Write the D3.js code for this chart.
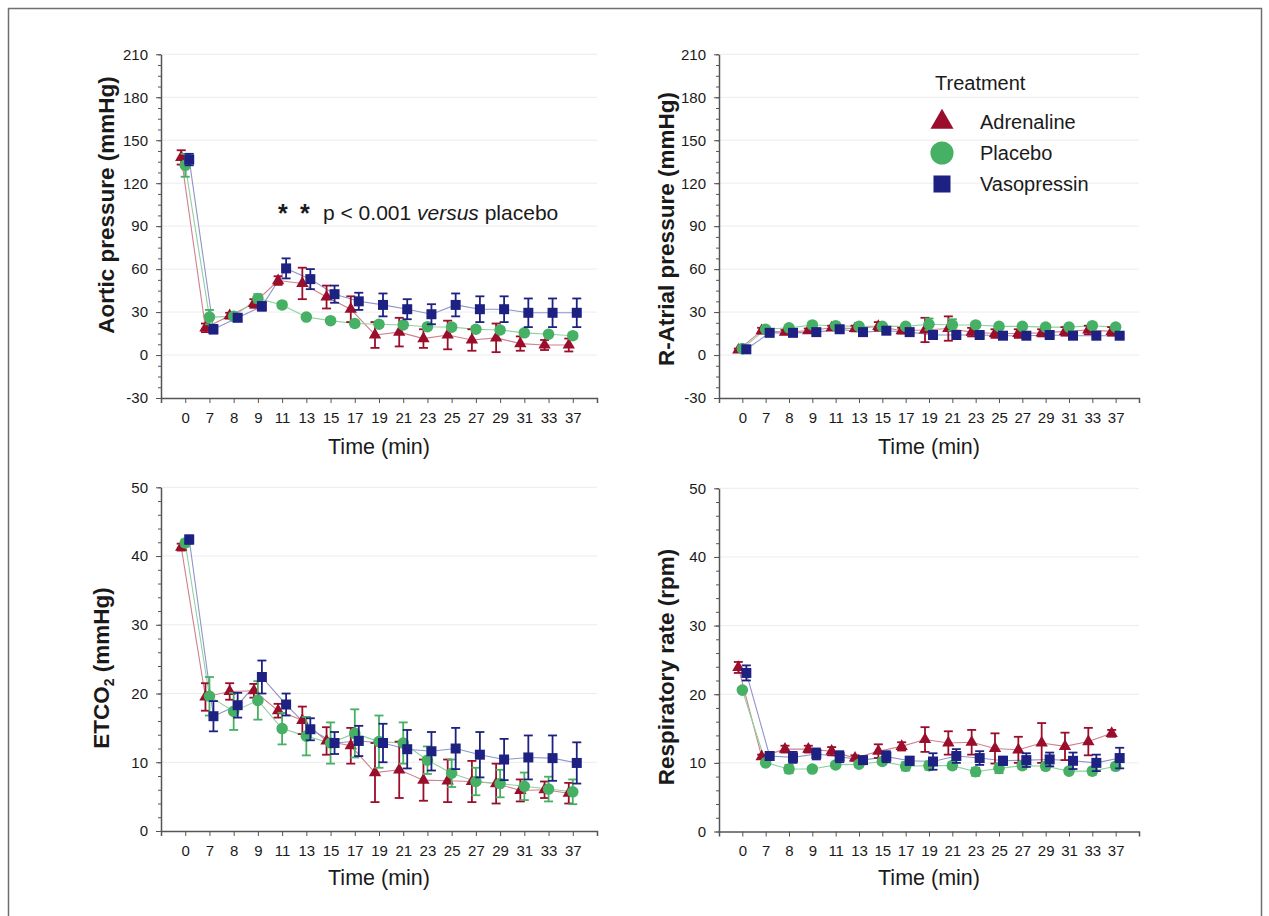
<!DOCTYPE html>
<html>
<head>
<meta charset="utf-8">
<script src="https://cdn.jsdelivr.net/npm/d3@7"></script>
<style>
  body { margin: 0; background: #fff; }
  text { font-family: "Liberation Sans", Arial, sans-serif; fill: #1a1a1a; }
</style>
</head>
<body>
<div id="chart"></div>
<script>
// time points (min)
const times = ["0", "7", "8", "9", "11", "13", "15", "17", "19", "21", "23", "25", "27", "29", "31", "33", "37"];
const treatments = ["Adrenaline", "Placebo", "Vasopressin"];

// aortic pressure (mmHg), mean and error
const aorticAdr = [138, 19, 27.5, 36, 52, 50, 40.5, 32, 14, 16, 11.5, 14, 10.5, 12, 8, 7, 7];
const aorticAdrErr = [5, 3, 2, 3, 3, 11, 8, 9, 9, 10, 6.5, 10, 7.5, 10, 5, 3.5, 4.5];
const aorticPlc = [132.5, 26.5, 27, 39.5, 35, 26.5, 24, 22, 21.5, 21, 19.8, 19.5, 18, 17.5, 15.5, 14.5, 13.5];
const aorticPlcErr = [8, 5, 2, 3, 2, 1.5, 2, 2, 2, 2, 2, 2, 2, 2, 2, 2, 2];
const aorticVas = [136.5, 18, 26, 34, 60.5, 53, 42.5, 37.5, 35, 32, 28.5, 35, 32, 32, 29.5, 29.5, 29.5];
const aorticVasErr = [4, 3, 2, 3, 7, 7, 6, 6, 8, 7, 7, 8, 9, 9, 10, 10, 10];

// right atrial pressure (mmHg)
const atrialAdr = [3.5, 17, 16, 17, 19, 18.5, 20, 17, 17.5, 18.5, 16, 15, 15, 15.5, 16.5, 17.5, 16.5];
const atrialAdrErr = [1, 2, 1.5, 1.5, 1.5, 2, 3, 2, 8.5, 8.5, 3, 3, 3, 2.5, 3, 3, 3];
const atrialPlc = [4.5, 18, 19, 21, 20.5, 20, 20, 20, 21.5, 21, 21, 20, 20, 19.5, 19.5, 20.5, 19.5];
const atrialPlcErr = [1, 1.5, 1.5, 1.5, 1.5, 1.5, 1.5, 1.5, 4, 4, 1.5, 1.5, 1.5, 1.5, 1.5, 1.5, 1.5];
const atrialVas = [4, 15.5, 15.5, 16, 18, 16, 17, 16, 14, 14, 14, 13.5, 13.5, 14, 13.5, 13.5, 13.5];
const atrialVasErr = [1, 1, 1, 1, 1, 1, 1, 1, 1, 1, 1, 1, 1, 1, 1, 1, 1];

// ETCO2 (mmHg)
const etco2Adr = [41.3, 19.5, 20.3, 20.4, 17.5, 16.1, 13.1, 12.4, 8.5, 8.9, 7.4, 7.3, 7.2, 6.9, 5.9, 6, 5.5];
const etco2AdrErr = [0.5, 2, 1.2, 1, 1, 2, 2, 2.6, 4.3, 4.1, 3, 3.1, 3, 2.9, 1.6, 1.2, 1.5];
const etco2Plc = [41.9, 19.6, 17.4, 19, 14.9, 13.8, 12.8, 14.2, 13, 12.8, 10.3, 8.4, 7.2, 6.9, 6.5, 6.1, 5.7];
const etco2PlcErr = [0.5, 2.8, 2.7, 2.8, 2.3, 2.8, 3, 3.5, 3.8, 3, 2, 2, 2, 2, 2, 1.8, 1.8];
const etco2Vas = [42.4, 16.7, 18.3, 22.4, 18.4, 14.8, 12.8, 13.1, 12.8, 11.9, 11.6, 12, 11.1, 10.4, 10.7, 10.6, 9.9];
const etco2VasErr = [0.6, 2.2, 1.8, 2.4, 1.6, 1.6, 1.6, 2.2, 2.8, 2.8, 2.8, 3, 3.3, 3, 3.2, 3.3, 3];

// respiratory rate (rpm)
const respAdr = [23.9, 10.9, 12, 12, 11.7, 10.7, 11.7, 12.4, 13.4, 12.9, 13, 12.1, 11.9, 12.9, 12.4, 13.1, 14.3];
const respAdrErr = [0.8, 0.3, 0.5, 0.5, 0.6, 0.4, 1, 0.6, 1.8, 1.7, 1.8, 2.2, 1.9, 2.9, 2, 2, 0.5];
const respPlc = [20.6, 10, 9.1, 9.1, 9.7, 9.8, 10.2, 9.5, 9.6, 9.6, 8.7, 9.2, 9.6, 9.5, 8.8, 8.8, 9.5];
const respPlcErr = [0.3, 0.3, 0.6, 0.4, 0.4, 0.4, 0.4, 0.6, 0.6, 0.5, 0.6, 0.7, 0.5, 0.5, 0.4, 0.5, 0.5];
const respVas = [23.1, 11, 10.8, 11.3, 10.9, 10.4, 10.9, 10.3, 10.2, 11, 10.7, 10.3, 10.4, 10.5, 10.3, 10, 10.7];
const respVasErr = [1.1, 0.3, 0.8, 0.8, 0.8, 0.5, 0.8, 0.6, 1.2, 1, 1, 0.6, 1, 1, 1.2, 1.2, 1.5];

const pressureTicks = [-30, 0, 30, 60, 90, 120, 150, 180, 210];
const smallTicks = [0, 10, 20, 30, 40, 50];

const width = 1269;
const height = 916;

const styles = {
  Adrenaline: { color: "#9a0d2b", line: "#d0808f", symbol: d3.symbolTriangle, size: 66, big: 230, dx: -4 },
  Placebo: { color: "#46b064", line: "#8fd0a0", symbol: d3.symbolCircle, size: 105, big: 420, dx: 0 },
  Vasopressin: { color: "#1d2182", line: "#8f94c8", symbol: d3.symbolSquare, size: 100, big: 290, dx: 4 }
};

function series(a, ae, p, pe, v, ve) {
  return [
    { name: "Adrenaline", values: a, errors: ae },
    { name: "Placebo", values: p, errors: pe },
    { name: "Vasopressin", values: v, errors: ve }
  ];
}

const panels = [
  { x0: 161, x1: 597, y0: 398, y1: 54.3, domain: [-30, 210], ticks: pressureTicks, minor: 7.5,
    label: "Aortic pressure (mmHg)", lx: 106, ly: 205, xlabelY: 454, tickY: 423,
    data: series(aorticAdr, aorticAdrErr, aorticPlc, aorticPlcErr, aorticVas, aorticVasErr) },
  { x0: 719, x1: 1139, y0: 398, y1: 54.3, domain: [-30, 210], ticks: pressureTicks, minor: 7.5,
    label: "R-Atrial pressure (mmHg)", lx: 666, ly: 229, xlabelY: 454, tickY: 423,
    data: series(atrialAdr, atrialAdrErr, atrialPlc, atrialPlcErr, atrialVas, atrialVasErr) },
  { x0: 161, x1: 597, y0: 831, y1: 487.3, domain: [0, 50], ticks: smallTicks, minor: 2,
    label: "ETCO2", lx: 101, ly: 668, xlabelY: 885, tickY: 855,
    data: series(etco2Adr, etco2AdrErr, etco2Plc, etco2PlcErr, etco2Vas, etco2VasErr) },
  { x0: 719, x1: 1139, y0: 831.5, y1: 488.3, domain: [0, 50], ticks: smallTicks, minor: 2,
    label: "Respiratory rate (rpm)", lx: 666, ly: 667, xlabelY: 885, tickY: 855,
    data: series(respAdr, respAdrErr, respPlc, respPlcErr, respVas, respVasErr) }
];

const svg = d3.select("#chart").append("svg")
  .attr("width", width)
  .attr("height", height);

svg.append("rect")
  .attr("x", 8.5).attr("y", 8.5)
  .attr("width", 1253).attr("height", 920)
  .attr("fill", "#fff")
  .attr("stroke", "#6f6f6f")
  .attr("stroke-width", 1.5);

panels.forEach(function (p) {
  const g = svg.append("g");
  const xScale = d3.scalePoint().domain(times).range([p.x0, p.x1]).padding(1);
  const yScale = d3.scaleLinear().domain(p.domain).range([p.y0, p.y1]);

  // faint gridlines
  g.append("g").selectAll("line")
    .data(p.ticks.filter((t) => t != p.domain[0]))
    .enter().append("line")
    .attr("x1", p.x0).attr("x2", p.x1)
    .attr("y1", (d) => yScale(d)).attr("y2", (d) => yScale(d))
    .attr("stroke", "#ececec").attr("stroke-width", 1);

  // minor ticks
  const minorVals = d3.range(p.domain[0], p.domain[1] + 0.001, p.minor);
  g.append("g")
    .attr("transform", "translate(" + p.x0 + ",0)")
    .call(d3.axisLeft(yScale).tickValues(minorVals).tickSize(3).tickFormat(""))
    .call((a) => a.select(".domain").remove())
    .call((a) => a.selectAll("line").attr("stroke", "#555"));

  // y axis
  const yAxis = g.append("g")
    .attr("transform", "translate(" + p.x0 + ",0)")
    .call(d3.axisLeft(yScale).tickValues(p.ticks).tickFormat((d) => String(d))
      .tickSize(5).tickSizeOuter(0).tickPadding(8));
  yAxis.select(".domain").attr("stroke", "#555").attr("stroke-width", 1.5);
  yAxis.selectAll("line").attr("stroke", "#555");
  yAxis.selectAll("text").style("font-size", "15px").style("font-family", "'Liberation Sans', Arial, sans-serif").attr("fill", "#1a1a1a");

  // x axis
  const xAxis = g.append("g")
    .attr("transform", "translate(0," + p.y0 + ")")
    .call(d3.axisBottom(xScale).tickSize(5).tickSizeOuter(5).tickPadding(9));
  xAxis.select(".domain").attr("stroke", "#555").attr("stroke-width", 1.5);
  xAxis.selectAll("line").attr("stroke", "#555");
  xAxis.selectAll("text").style("font-size", "15px").style("font-family", "'Liberation Sans', Arial, sans-serif").attr("fill", "#1a1a1a");

  g.append("text")
    .attr("x", (p.x0 + p.x1) / 2)
    .attr("y", p.xlabelY)
    .attr("text-anchor", "middle")
    .style("font-size", "21.5px")
    .text("Time (min)");

  const yl = g.append("text")
    .attr("transform", "translate(" + p.lx + "," + p.ly + ") rotate(-90)")
    .attr("text-anchor", "middle")
    .attr("dy", "0.35em")
    .style("font-size", "22.5px")
    .style("font-weight", "bold");
  if (p.label == "ETCO2") {
    yl.append("tspan").text("ETCO");
    yl.append("tspan").text("2").style("font-size", "14px").attr("baseline-shift", "-5");
    yl.append("tspan").text(" (mmHg)");
  } else {
    yl.text(p.label);
  }

  // connecting lines
  const line = d3.line()
    .x((d, i) => xScale(times[i]))
    .y((d) => yScale(d));
  p.data.forEach(function (s) {
    const st = styles[s.name];
    g.append("path")
      .datum(s.values)
      .attr("fill", "none")
      .attr("stroke", st.line)
      .attr("stroke-width", 1.1)
      .attr("transform", "translate(" + st.dx + ",0)")
      .attr("d", line);
  });

  // error bars and markers
  p.data.forEach(function (s) {
    const st = styles[s.name];
    const sg = g.append("g").attr("transform", "translate(" + st.dx + ",0)");
    const pts = s.values.map((v, i) => ({ t: times[i], v: v, e: s.errors[i] }));
    const eb = sg.selectAll(".eb").data(pts).enter().append("g")
      .attr("stroke", st.color).attr("stroke-width", 1.8);
    eb.append("line")
      .attr("x1", (d) => xScale(d.t)).attr("x2", (d) => xScale(d.t))
      .attr("y1", (d) => yScale(d.v - d.e)).attr("y2", (d) => yScale(d.v + d.e));
    eb.append("line")
      .attr("x1", (d) => xScale(d.t) - 4.5).attr("x2", (d) => xScale(d.t) + 4.5)
      .attr("y1", (d) => yScale(d.v + d.e)).attr("y2", (d) => yScale(d.v + d.e));
    eb.append("line")
      .attr("x1", (d) => xScale(d.t) - 4.5).attr("x2", (d) => xScale(d.t) + 4.5)
      .attr("y1", (d) => yScale(d.v - d.e)).attr("y2", (d) => yScale(d.v - d.e));
    sg.selectAll(".pt").data(pts).enter().append("path")
      .attr("d", d3.symbol().type(st.symbol).size(st.size))
      .attr("transform", (d) => "translate(" + xScale(d.t) + "," + yScale(d.v) + ")")
      .attr("fill", st.color);
  });
});

// significance note
[278, 300].forEach(function (x) {
  svg.append("text")
    .attr("x", x).attr("y", 222)
    .style("font-size", "25px")
    .style("font-weight", "bold")
    .text("*");
});
const note = svg.append("text")
  .attr("x", 323).attr("y", 220)
  .style("font-size", "21px");
note.append("tspan").text("p < 0.001 ");
note.append("tspan").text("versus").style("font-style", "italic");
note.append("tspan").text(" placebo");

// legend
svg.append("text")
  .attr("x", 935).attr("y", 90)
  .style("font-size", "20px")
  .text("Treatment");
const legendY = d3.scalePoint().domain(treatments).range([122, 184]);
treatments.forEach(function (name) {
  const st = styles[name];
  svg.append("path")
    .attr("d", d3.symbol().type(st.symbol).size(st.big))
    .attr("transform", "translate(942," + legendY(name) + ")")
    .attr("fill", st.color);
  svg.append("text")
    .attr("x", 980).attr("y", legendY(name))
    .attr("dy", "0.35em")
    .style("font-size", "20px")
    .text(name);
});
</script>
</body>
</html>
